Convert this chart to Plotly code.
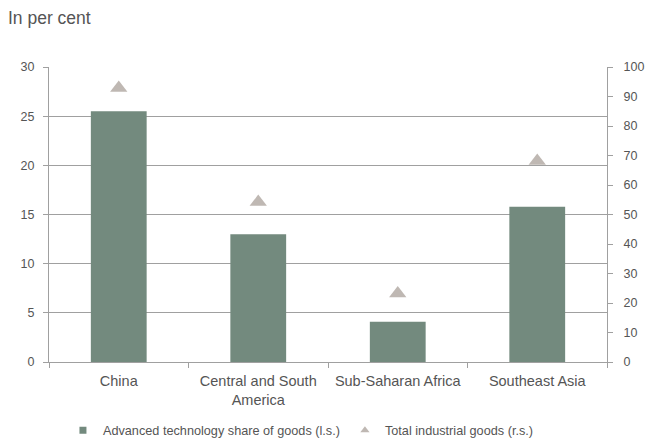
import plotly.graph_objects as go

categories = ["China", "Central and South<br>America", "Sub-Saharan Africa", "Southeast Asia"]
adv_tech_share = [25.5, 13.0, 4.1, 15.8]
total_industrial = [92.9, 54.2, 23.2, 68.1]

bar_color = "#738A7E"
tri_color = "#BFB8B3"
text_color = "#555555"
grid_color = "#A0A0A0"

fig = go.Figure()
fig.add_trace(go.Bar(
    x=categories, y=adv_tech_share, name="Advanced technology share of goods (l.s.)",
    marker=dict(color=bar_color, line=dict(width=0)), yaxis="y", showlegend=False,
))
fig.add_trace(go.Scatter(
    x=categories, y=total_industrial, name="Total industrial goods (r.s.)",
    mode="markers", marker=dict(symbol="triangle-up", size=15, color=tri_color),
    yaxis="y2", showlegend=False,
))
# legend entries with small symbols as in the reference
fig.add_trace(go.Scatter(
    x=[None], y=[None], name="Advanced technology share of goods (l.s.)",
    mode="markers", marker=dict(symbol="square", size=7, color=bar_color), yaxis="y",
))
fig.add_trace(go.Scatter(
    x=[None], y=[None], name="Total industrial goods (r.s.)",
    mode="markers", marker=dict(symbol="triangle-up", size=8, color=tri_color), yaxis="y2",
))

font = dict(family="Liberation Sans, Arial, sans-serif", size=12, color=text_color)

fig.update_layout(
    width=647, height=440,
    margin=dict(l=49, r=40, t=67, b=78, autoexpand=False),
    paper_bgcolor="white", plot_bgcolor="white",
    font=font,
    bargap=0.6,
    showlegend=True,
    legend=dict(orientation="h", x=0.025, xanchor="left", y=-0.232, yanchor="middle",
                font=dict(size=12.7, color=text_color), itemwidth=30,
                traceorder="normal"),
    xaxis=dict(showline=True, linecolor=grid_color, linewidth=1, ticks="outside",
               tickson="boundaries", ticklen=5, tickcolor=grid_color,
               ticklabelstandoff=6,
               tickfont=dict(size=14.5, color=text_color), showgrid=False),
    yaxis=dict(range=[0, 30], dtick=5, showline=True, linecolor=grid_color, linewidth=1,
               ticks="outside", ticklen=5, tickcolor=grid_color, showgrid=True,
               gridcolor=grid_color, gridwidth=1, zeroline=False, ticklabelstandoff=6,
               tickfont=dict(size=12.5, color=text_color)),
    yaxis2=dict(range=[0, 100], dtick=10, overlaying="y", side="right", showline=True,
                linecolor=grid_color, linewidth=1, ticks="outside", ticklen=5,
                tickcolor=grid_color, showgrid=False, zeroline=False, ticklabelstandoff=8,
                tickfont=dict(size=12.5, color=text_color)),
    annotations=[dict(text="In per cent", xref="paper", yref="paper", x=-43/558, y=1 + 49/295,
                      xanchor="left", yanchor="middle", showarrow=False,
                      font=dict(size=17.5, color=text_color))],
)

fig.write_html("out.html")
